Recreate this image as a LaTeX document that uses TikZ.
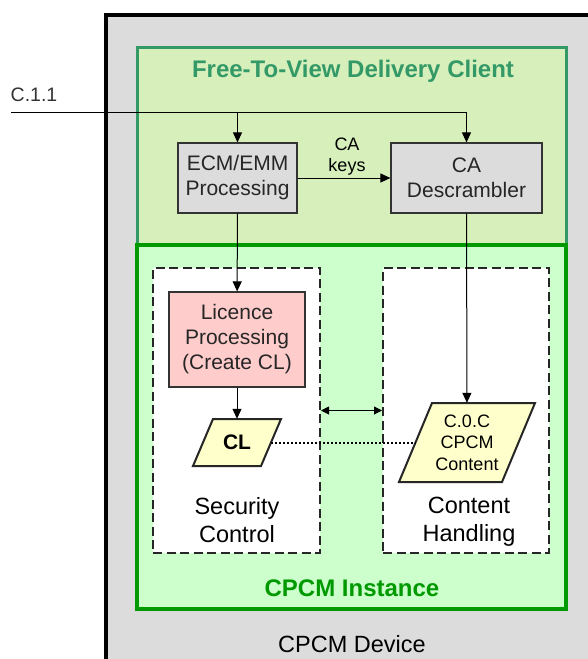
\documentclass[tikz,border=0pt]{standalone}
\usepackage{fontspec}
\setmainfont{Liberation Sans}
\usetikzlibrary{arrows.meta}
\definecolor{devgrey}{RGB}{220,220,220}
\definecolor{ftvfill}{RGB}{214,239,187}
\definecolor{ftvline}{RGB}{51,153,102}
\definecolor{cpcmfill}{RGB}{204,255,204}
\definecolor{cpcmline}{RGB}{0,153,0}
\definecolor{licfill}{RGB}{255,204,204}
\definecolor{datafill}{RGB}{255,255,204}
\newcommand{\procfont}{\fontsize{21}{25}\selectfont}
\newcommand{\notefont}{\fontsize{18}{21.5}\selectfont}
\newcommand{\areafont}{\fontsize{23.5}{28}\selectfont}
\newcommand{\headfont}{\fontsize{24}{28}\selectfont\bfseries}
\newcommand{\inputfont}{\fontsize{19.5}{23}\selectfont}
\newcommand{\clfont}{\fontsize{21}{25}\selectfont\bfseries}
\tikzset{
  procbox/.style={draw=black!80, line width=1.2pt, fill=devgrey, inner sep=0pt, align=center, font=\procfont, text=black!85},
  areabox/.style={draw=black!85, dash pattern=on 9pt off 4.5pt, line width=2pt, fill=white, inner sep=0pt},
  datashape/.style={draw=black!85, line width=2pt, fill=datafill},
  flow/.style={line width=1pt, -{Triangle[length=10pt,width=9pt]}},
  flowboth/.style={line width=1pt, {Triangle[length=8pt,width=8pt]}-{Triangle[length=8pt,width=8pt]}},
  dotline/.style={line width=2pt, dash pattern=on 2pt off 2pt}
}

\begin{document}
\begin{tikzpicture}[x=1pt,y=-1pt]
			%%%%% FRAME %%%%%
			\useasboundingbox (0,0) rectangle (588,659);
			\clip (0,0) rectangle (588,659);
			\fill[white] (0,0) rectangle (588,659);
			
			\draw[line width=4pt, fill=devgrey] (106,15) rectangle (620,700);
			\node[font=\areafont, inner sep=0] (device) at (352,643.8) {CPCM Device};
			
			%%%%% FREE-TO-VIEW CLIENT %%%%%
			\node[draw=ftvline, line width=3pt, fill=ftvfill, minimum width=429, minimum height=198, inner sep=0] (ftv) at (351.5,146) {};
			\node[font=\headfont, text=ftvline, inner sep=0] (ftvtitle) at (353,71) {Free-To-View Delivery Client};
			
			\node[procbox, minimum width=119, minimum height=70] (ecm) at (237.5,178) {ECM/EMM\\Processing};
			\node[procbox, minimum width=151, minimum height=70] (desc) at (466.5,178) {CA\\Descrambler};
			\node[font=\notefont, align=center, inner sep=0] (keys) at (347,156.5) {CA\\keys};
			
			%%%%% CPCM INSTANCE %%%%%
			\node[draw=cpcmline, line width=3.5pt, fill=cpcmfill, minimum width=429, minimum height=364, inner sep=0] (cpcm) at (351.5,427) {};
			\node[font=\headfont, text=cpcmline, inner sep=0] (cpcmtitle) at (352,587.8) {CPCM Instance};
			
			\node[areabox, minimum width=167, minimum height=285] (sec) at (236.5,410.5) {};
			\node[areabox, minimum width=166, minimum height=285] (cont) at (466,410.5) {};
			\node[font=\areafont, align=center, inner sep=0] (seclabel) at (237,519.6) {Security\\Control};
			\node[font=\areafont, align=center, inner sep=0] (contlabel) at (469,522) {Content\\Handling};
			
			\node[procbox, fill=licfill, minimum width=136, minimum height=95] (lic) at (237,339.5) {Licence\\Processing\\(Create CL)};
			
			\filldraw[datashape] (193,466) -- (261,466) -- (281,419) -- (213,419) -- cycle;
			\node[font=\clfont, minimum width=68, minimum height=47, inner sep=0] (cl) at (237,442.5) {CL};
			
			\filldraw[datashape] (399,482) -- (502,482) -- (535,403) -- (432,403) -- cycle;
			\node[font=\notefont, align=center, minimum width=103, minimum height=79, inner sep=0] (coc) at (467,442.5) {C.0.C\\CPCM\\Content};
			
			%%%%% CONNECTIONS %%%%%
			\node[font=\inputfont, text=black!80, inner sep=0] (c11) at (34,95) {C.1.1};
			\coordinate (in) at (11,112);
			
			\draw[flow] (in) -| (desc.north);
			\draw[flow] (ecm.north |- in) -- (ecm.north);
			\draw[flow] (ecm) -- (desc);
			\draw[flow] (ecm) -- (lic);
			\draw[flow] (lic) -- (cl);
			\draw[flow] (desc) -- (coc);
			\draw[flowboth] (sec.east) -- (cont.west);
			\draw[dotline] (cl) -- (coc);
			
			%%%%% END %%%%%
\end{tikzpicture}
\end{document}
